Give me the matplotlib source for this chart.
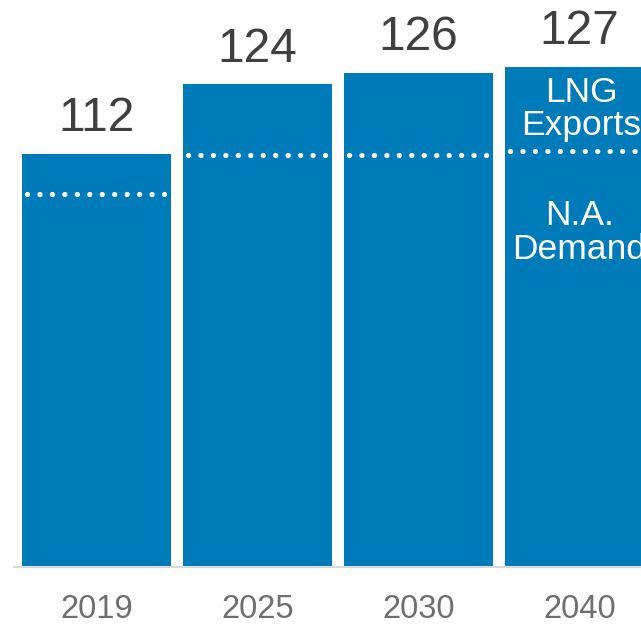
import matplotlib
matplotlib.use("Agg")
import matplotlib.pyplot as plt

years = ["2019", "2025", "2030", "2040"]
totals = [112, 124, 126, 127]
na_demand = [105.1, 111.7, 111.7, 112.4]

plt.rcParams['font.family'] = ['Liberation Sans', 'DejaVu Sans']

BAR = '#007BBA'
fig = plt.figure(figsize=(6.41, 6.25), dpi=100)
ax = fig.add_axes([14 / 641, (625 - 566.7) / 625, 1 - 14 / 641, 566.7 / 625])

x = list(range(len(years)))
ax.bar(x, totals, width=0.93, color=BAR, zorder=2)
ax.set_xlim(-0.512, 3.382)
ax.set_ylim(40.8, 138.5)

for i, (t, d) in enumerate(zip(totals, na_demand)):
    ax.plot([i - 0.43, i + 0.43], [d, d], color='white', lw=3.8,
            linestyle=(0, (0.01, 2.35)), dash_capstyle='round', zorder=3)
    ax.annotate(str(t), xy=(i, t), xytext=(0, 16.2), textcoords='offset points',
                ha='center', va='baseline', fontsize=34.5, color='#404040')
    ax.annotate(years[i], xy=(i, 40.8), xytext=(0, -37.0), textcoords='offset points',
                ha='center', va='baseline', fontsize=23.5, color='#6E6E6E',
                annotation_clip=False)

i = 3
ax.text(i + 0.01, (totals[i] + na_demand[i]) / 2, "LNG\nExports", ha='center', va='center',
        fontsize=25.5, color='white', linespacing=1.0, zorder=4)
ax.annotate("N.A.\nDemand", xy=(i, na_demand[i]), xytext=(0, -58.5),
            textcoords='offset points', ha='center', va='center',
            fontsize=25.5, color='white', linespacing=1.03, zorder=4)

for s in ['top', 'right', 'left']:
    ax.spines[s].set_visible(False)
ax.spines['bottom'].set_color('#D9D9D9')
ax.spines['bottom'].set_linewidth(1.5)
ax.set_xticks([])
ax.set_yticks([])

fig.savefig("out.png", dpi=100)
